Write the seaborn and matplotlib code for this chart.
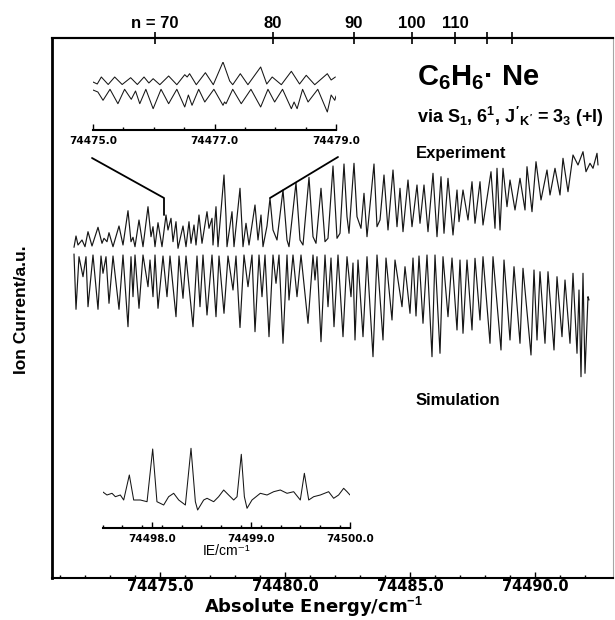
import numpy as np
import pandas as pd
import matplotlib
matplotlib.use("Agg")
import matplotlib.pyplot as plt
from matplotlib import font_manager
import seaborn as sns

# ---- main spectrum (turning points) ----
E0 = 74470.0  # energies below are E - E0, cm^-1
exp_de = [1.56, 1.64, 1.72, 1.88, 2.0, 2.12, 2.28, 2.52, 2.68, 2.76,
          2.88, 2.96, 3.12, 3.36, 3.52, 3.72, 3.84, 3.92, 4.0, 4.16,
          4.32, 4.52, 4.64, 4.72, 4.8, 4.92, 5.08, 5.24, 5.32, 5.44,
          5.52, 5.64, 5.72, 5.92, 6.04, 6.16, 6.24, 6.36, 6.44, 6.56,
          6.68, 6.88, 6.96, 7.08, 7.12, 7.24, 7.32, 7.56, 7.64, 7.68,
          7.88, 7.96, 8.2, 8.32, 8.44, 8.56, 8.8, 8.92, 9.04, 9.12,
          9.28, 9.4, 9.52, 9.68, 9.92, 10.08, 10.16, 10.44, 10.6, 10.72,
          10.96, 11.12, 11.24, 11.44, 11.6, 11.72, 11.92, 12.08, 12.2, 12.36,
          12.48, 12.56, 12.76, 12.88, 13.04, 13.16, 13.28, 13.56, 13.68, 13.8,
          13.96, 14.12, 14.32, 14.48, 14.6, 14.72, 14.92, 15.08, 15.28, 15.4,
          15.56, 15.72, 15.92, 16.08, 16.24, 16.36, 16.52, 16.72, 16.88, 16.96,
          17.12, 17.32, 17.48, 17.6, 17.8, 17.92, 18.24, 18.4, 18.48, 18.6,
          18.72, 18.88, 19.0, 19.2, 19.4, 19.6, 19.68, 19.88, 20.04, 20.24,
          20.48, 20.6, 20.8, 21.0, 21.12, 21.32, 21.52, 21.72, 21.92, 22.04,
          22.2, 22.32, 22.48, 22.52]
exp_sig = [33.07, 34.2, 33.3, 33.8, 33.13, 34.63, 33.2, 35.07, 33.47, 33.97,
           33.63, 34.53, 33.13, 35.2, 33.3, 36.73, 33.63, 34.07, 33.13, 35.8,
           33.13, 37.13, 34.13, 35.13, 33.13, 35.53, 33.13, 36.3, 34.8, 35.97,
           33.63, 35.63, 32.97, 35.2, 33.13, 35.63, 33.47, 35.3, 33.3, 36.3,
           33.47, 36.63, 34.97, 35.97, 33.3, 37.13, 33.13, 40.3, 36.13, 33.13,
           36.63, 33.13, 38.97, 33.13, 35.47, 33.3, 37.3, 33.8, 36.3, 33.13,
           35.2, 37.97, 34.8, 33.8, 38.8, 33.8, 33.13, 39.53, 33.8, 33.3,
           40.07, 34.13, 33.47, 38.97, 33.63, 33.97, 41.2, 33.97, 34.47, 41.4,
           36.13, 34.47, 41.47, 36.13, 34.97, 38.47, 34.13, 41.4, 35.13, 35.8,
           40.3, 34.8, 40.8, 35.13, 38.97, 34.63, 39.8, 35.13, 39.3, 35.47,
           39.3, 34.63, 40.47, 34.13, 40.13, 34.47, 39.97, 34.3, 38.8, 35.63,
           38.8, 35.8, 39.63, 35.47, 39.63, 35.3, 40.63, 34.97, 40.97, 34.8,
           40.97, 37.13, 39.8, 36.8, 39.97, 36.8, 41.13, 36.63, 41.63, 37.8,
           40.8, 38.3, 40.97, 38.3, 41.97, 38.63, 42.3, 41.3, 42.63, 40.63,
           41.47, 40.97, 42.47, 41.3]

sim_de = [1.56, 1.64, 1.76, 1.92, 2.04, 2.12, 2.32, 2.52, 2.64, 2.72,
          2.84, 2.96, 3.12, 3.36, 3.52, 3.72, 3.84, 3.92, 4.0, 4.16,
          4.32, 4.52, 4.6, 4.72, 4.8, 4.92, 5.12, 5.28, 5.4, 5.64,
          5.76, 5.92, 6.04, 6.32, 6.48, 6.6, 6.72, 6.88, 7.08, 7.24,
          7.36, 7.56, 7.72, 7.92, 8.04, 8.2, 8.36, 8.52, 8.68, 8.8,
          8.96, 9.08, 9.2, 9.36, 9.52, 9.64, 9.76, 9.92, 10.08, 10.16,
          10.32, 10.48, 10.64, 10.92, 11.12, 11.2, 11.28, 11.44, 11.6, 11.72,
          11.84, 11.96, 12.12, 12.32, 12.48, 12.64, 12.72, 12.8, 12.92, 13.12,
          13.28, 13.52, 13.68, 13.92, 14.04, 14.28, 14.4, 14.68, 14.8, 15.0,
          15.12, 15.24, 15.36, 15.52, 15.68, 15.88, 16.0, 16.2, 16.32, 16.52,
          16.68, 16.88, 17.0, 17.12, 17.28, 17.48, 17.6, 17.8, 17.92, 18.2,
          18.32, 18.64, 18.76, 19.0, 19.16, 19.4, 19.52, 19.84, 19.96, 20.08,
          20.2, 20.4, 20.52, 20.76, 20.88, 21.08, 21.2, 21.4, 21.52, 21.68,
          21.76, 21.84, 21.92, 22.0, 22.12, 22.16]
sim_sig = [32.4, 26.87, 32.13, 30.13, 32.13, 27.13, 32.3, 26.87, 32.2, 30.47,
           32.13, 27.47, 32.2, 26.87, 32.3, 25.13, 32.13, 28.13, 32.3, 26.97,
           32.3, 29.13, 31.8, 28.13, 32.3, 26.97, 32.2, 28.13, 32.2, 26.13,
           32.2, 27.97, 32.2, 25.13, 32.2, 27.13, 32.3, 26.3, 32.3, 26.13,
           32.2, 26.47, 32.2, 28.8, 32.2, 25.05, 32.3, 29.13, 32.3, 24.63,
           32.3, 28.13, 32.3, 24.13, 32.3, 29.47, 32.3, 23.47, 32.3, 27.8,
           32.3, 28.13, 32.3, 25.47, 32.3, 29.8, 32.13, 23.63, 32.3, 27.13,
           32.0, 25.13, 32.3, 24.13, 32.13, 28.13, 31.5, 23.8, 31.8, 24.13,
           32.13, 22.13, 32.3, 23.8, 32.0, 25.8, 31.8, 27.13, 31.13, 26.47,
           32.0, 26.2, 32.2, 25.47, 32.3, 22.13, 32.3, 22.47, 32.13, 26.13,
           32.0, 24.8, 31.8, 24.47, 31.8, 24.8, 31.97, 25.8, 32.13, 23.47,
           32.13, 22.8, 31.8, 23.8, 31.13, 23.47, 30.97, 22.3, 30.8, 23.8,
           30.63, 23.47, 30.63, 22.8, 30.13, 24.13, 29.8, 23.47, 30.47, 22.47,
           28.8, 20.13, 30.47, 20.47, 28.13, 27.8]

# tick positions
major_E = [74475.0, 74480.0, 74485.0, 74490.0]
n_de = [4.8, 9.52, 12.76, 15.08, 16.8, 18.08, 19.08]
n_labels = ["n = 70", "80", "90", "100", "110", "", ""]

# zoom lines from upper inset down to the spectrum
conn_left_de = [2.28, 5.16, 5.16]
conn_left_sig = [42.0, 38.0, 36.3]
conn_right_de = [12.12, 9.4]
conn_right_sig = [42.1, 38.0]

# ---- upper inset, 74475.0 - 74479.0 ----
ins1_E0 = 74475.0
ins1_exp_de = [0.0, 0.07, 0.137, 0.25, 0.357, 0.48, 0.62, 0.73, 0.84, 0.92,
               0.99, 1.1, 1.245, 1.38, 1.51, 1.55, 1.59, 1.7, 1.85, 1.98,
               2.14, 2.25, 2.3, 2.425, 2.55, 2.76, 2.86, 2.95, 3.1, 3.265,
               3.4, 3.51, 3.65, 3.857, 3.92, 3.99]
ins1_exp_sig = [4.6, 4.4, 5.1, 4.35, 5.1, 4.35, 5.03, 4.35, 5.1, 4.5,
                4.93, 4.33, 5.2, 4.33, 5.33, 5.1, 5.43, 4.33, 5.53, 4.33,
                6.6, 4.7, 4.33, 5.43, 4.33, 6.1, 4.4, 5.1, 4.33, 5.67,
                4.4, 5.27, 4.33, 5.43, 4.8, 5.1]
ins1_sim_de = [0.0, 0.08, 0.165, 0.28, 0.41, 0.52, 0.63, 0.7, 0.77, 0.87,
               0.99, 1.12, 1.245, 1.38, 1.51, 1.57, 1.63, 1.74, 1.84, 1.99,
               2.14, 2.165, 2.19, 2.3, 2.44, 2.6, 2.76, 2.88, 2.99, 3.12,
               3.265, 3.31, 3.36, 3.45, 3.54, 3.7, 3.857, 3.92, 3.98, 4.0]
ins1_sim_sig = [3.8, 3.6, 2.77, 3.87, 2.43, 3.87, 2.87, 3.7, 2.43, 3.87,
                1.93, 3.87, 2.43, 3.87, 2.1, 3.3, 2.27, 3.87, 2.6, 3.87,
                2.27, 2.6, 2.43, 3.87, 2.43, 3.87, 2.1, 3.87, 2.6, 3.87,
                1.93, 2.6, 1.93, 3.87, 2.6, 3.87, 1.6, 3.3, 2.77, 3.2]
ins1_ticks = [74475.0, 74477.0, 74479.0]

# ---- lower inset, 74497.5 - 74500.0 ----
ins2_E0 = 74497.5
ins2_de = [0.0, 0.045, 0.096, 0.13, 0.18, 0.214, 0.271, 0.315, 0.382, 0.45,
           0.507, 0.55, 0.618, 0.668, 0.719, 0.77, 0.837, 0.894, 0.938, 0.961,
           1.022, 1.056, 1.123, 1.173, 1.224, 1.274, 1.325, 1.359, 1.402, 1.433,
           1.46, 1.51, 1.594, 1.662, 1.729, 1.796, 1.864, 1.931, 1.998, 2.039,
           2.083, 2.133, 2.2, 2.284, 2.335, 2.385, 2.436, 2.47, 2.5]
ins2_sig = [3.63, 3.3, 3.47, 3.13, 3.3, 2.8, 5.3, 2.8, 2.8, 2.63,
            7.9, 2.63, 2.3, 3.13, 3.47, 2.8, 2.3, 7.97, 2.63, 1.8,
            2.8, 2.97, 2.63, 3.13, 3.8, 3.3, 2.8, 3.13, 7.37, 3.13,
            1.97, 2.8, 3.47, 3.3, 3.63, 3.8, 3.47, 3.63, 2.8, 5.47,
            2.8, 3.13, 3.3, 3.63, 2.97, 3.3, 3.97, 3.63, 3.3]
ins2_ticks = [74498.0, 74499.0, 74500.0]

sns.set_style("white")
plt.rcParams["font.family"] = ["Liberation Sans", "DejaVu Sans"]
plt.rcParams["mathtext.fontset"] = "custom"
plt.rcParams["mathtext.rm"] = "Liberation Sans:bold"
plt.rcParams["mathtext.it"] = "Liberation Sans:bold"
plt.rcParams["mathtext.bf"] = "Liberation Sans:bold"
plt.rcParams["text.color"] = "k"
plt.rcParams["axes.labelcolor"] = "k"
plt.rcParams["xtick.color"] = "k"

names = {f.name for f in font_manager.fontManager.ttflist}
narrow = "Liberation Sans Narrow" if "Liberation Sans Narrow" in names else "Liberation Sans"
tickfont = dict(fontfamily="DejaVu Sans", fontweight="bold")
ink = "#161616"

W, H = 615, 620
fig = plt.figure(figsize=(W / 100, H / 100), dpi=100)


def box(x0, y0, x1, y1):
    return [x0 / W, 1 - y1 / H, (x1 - x0) / W, (y1 - y0) / H]


# main panel
ax = fig.add_axes(box(52, 38, 613, 578))
exp = pd.DataFrame({"E": E0 + np.array(exp_de), "sig": exp_sig})
sim = pd.DataFrame({"E": E0 + np.array(sim_de), "sig": sim_sig})
sns.lineplot(data=exp, x="E", y="sig", ax=ax, color=ink, lw=0.85, sort=False, estimator=None)
sns.lineplot(data=sim, x="E", y="sig", ax=ax, color=ink, lw=0.85, sort=False, estimator=None)
ax.plot(E0 + np.array(conn_left_de), conn_left_sig, color="k", lw=1.3)
ax.plot(E0 + np.array(conn_right_de), conn_right_sig, color="k", lw=1.3)

ax.set_xlim(74470.68, 74493.12)
ax.set_ylim(0, 54)
ax.set_yticks([])
ax.set_xticks(major_E, [f"{v:.1f}" for v in major_E], fontsize=10.5, **tickfont)
ax.set_xticks(np.arange(74471.0, 74493.0, 1.0), minor=True)
ax.tick_params(axis="x", which="both", direction="in", bottom=True, width=1, pad=1)
ax.tick_params(axis="x", which="major", length=4.5)
ax.tick_params(axis="x", which="minor", length=2.5)
ax.set_xlabel("")
ax.set_ylabel("")
for side in ["left", "top", "bottom"]:
    ax.spines[side].set_color("k")
    ax.spines[side].set_linewidth(1.5)
ax.spines["left"].set_linewidth(2)
ax.spines["right"].set_color("0.65")
ax.spines["right"].set_linewidth(0.8)

# Rydberg n scale on top
axt = ax.twiny()
axt.set_xlim(ax.get_xlim())
axt.set_xticks(E0 + np.array(n_de), n_labels, fontsize=12, fontfamily=narrow, fontweight="bold")
axt.tick_params(axis="x", direction="inout", length=8, width=1.2, pad=1)
for side in ["left", "right", "bottom"]:
    axt.spines[side].set_visible(False)
axt.spines["top"].set_linewidth(1.5)
axt.spines["top"].set_color("k")

fig.text(22 / W, 0.5, "Ion Current/a.u.", rotation=90, ha="center", va="center",
         fontsize=12.5, fontweight="bold", fontfamily=narrow)
fig.text(313 / W, 1 - 613 / H, "Absolute Energy/cm$^{-1}$", ha="center", va="baseline",
         fontsize=13, **tickfont)

fig.text(417 / W, 1 - 85 / H, "C$_6$H$_6$· Ne", fontsize=21, fontweight="bold", va="baseline")
fig.text(417 / W, 1 - 123 / H, "via S$_1$, 6$^1$, $J'_{K'}$ = 3$_3$ (+l)", fontsize=13,
         fontweight="bold", va="baseline")
fig.text(416 / W, 1 - 158 / H, "Experiment", fontsize=12, fontweight="bold", va="baseline")
fig.text(416 / W, 1 - 405 / H, "Simulation", fontsize=12, fontweight="bold", va="baseline")


def inset(rect, lo, hi, ticks, minor):
    a = fig.add_axes(rect)
    a.patch.set_alpha(0)
    for side in ["left", "right", "top"]:
        a.spines[side].set_visible(False)
    a.spines["bottom"].set_color("k")
    a.spines["bottom"].set_linewidth(1.5)
    a.set_xlim(lo, hi)
    a.set_yticks([])
    a.set_xticks(ticks, [f"{v:.1f}" for v in ticks], fontsize=7.5, **tickfont)
    a.set_xticks(np.arange(lo, hi + 1e-6, minor), minor=True)
    a.tick_params(axis="x", which="both", direction="in", bottom=True, width=1, pad=4)
    a.tick_params(axis="x", which="major", length=4)
    a.tick_params(axis="x", which="minor", length=2)
    return a


ax1 = inset(box(93, 62, 336, 130), 74475.0, 74479.0, ins1_ticks, 0.5)
sns.lineplot(x=ins1_E0 + np.array(ins1_exp_de), y=ins1_exp_sig, ax=ax1, color=ink, lw=0.75,
             sort=False, estimator=None)
sns.lineplot(x=ins1_E0 + np.array(ins1_sim_de), y=ins1_sim_sig, ax=ax1, color=ink, lw=0.75,
             sort=False, estimator=None)
ax1.set_ylim(-0.2, 6.6)

ax2 = inset(box(102.5, 430, 350, 528), 74497.5, 74500.0, ins2_ticks, 0.2)
sns.lineplot(x=ins2_E0 + np.array(ins2_de), y=ins2_sig, ax=ax2, color=ink, lw=0.75,
             sort=False, estimator=None)
ax2.set_ylim(0, 9.8)
ax2.set_xlabel("IE/cm⁻¹", fontsize=10, labelpad=0)

fig.savefig("out.png", dpi=100)
